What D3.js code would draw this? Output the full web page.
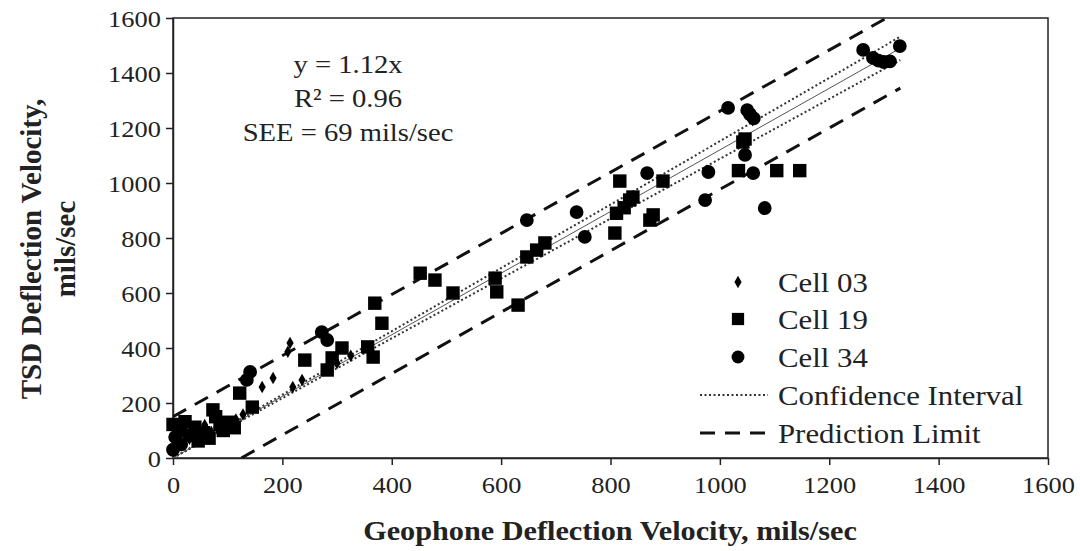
<!DOCTYPE html>
<html><head><meta charset="utf-8">
<script src="https://cdn.jsdelivr.net/npm/d3@7/dist/d3.min.js"></script>
<style>body{margin:0;background:#fff}svg{display:block}text{font-family:"Liberation Serif","Times New Roman",serif;fill:#222}</style>
</head><body><svg id="c" width="1080" height="551"></svg>
<script>
// Data (mils/sec)
const cell03 = [[5,40],[10,60],[15,95],[22,115],[30,70],[38,100],[48,85],[58,120],[70,95],[80,112],[92,130],[104,118],[115,140],[128,158],[163,258],[183,291],[210,386],[214,418],[219,258],[236,284],[300,345],[325,372],[828,918],[842,940],[1040,1150],[1060,1228]];
const cell19 = [[0,122],[10,100],[22,132],[30,82],[40,112],[46,62],[56,92],[66,72],[73,175],[78,150],[86,122],[92,100],[102,130],[112,110],[122,236],[145,185],[241,356],[282,320],[291,364],[309,400],[356,404],[366,367],[369,563],[382,490],[452,672],[479,647],[512,600],[589,654],[592,604],[631,556],[647,731],[665,756],[680,782],[808,818],[811,890],[817,1007],[825,910],[835,938],[841,949],[872,865],[878,884],[896,1007],[1034,1045],[1042,1149],[1046,1160],[1104,1045],[1146,1045]];
const cell34 = [[0,30],[4,76],[15,50],[135,284],[141,313],[272,458],[282,429],[647,865],[738,894],[753,804],[867,1036],[973,938],[979,1040],[1015,1273],[1046,1102],[1050,1265],[1055,1250],[1061,1036],[1062,1235],[1082,909],[1262,1484],[1280,1455],[1290,1445],[1300,1440],[1311,1442],[1329,1498]];
const fitLine = [[0,0],[1330,1490]];
const ciUpper = [[0,0],[1330,1532]];
const ciLower = [[0,0],[1330,1447]];
const plUpper = [[0,150],[1305,1600]];
const plLower = [[125,0],[1330,1345]];
const xTicks = [0,200,400,600,800,1000,1200,1400,1600];
const yTicks = [0,200,400,600,800,1000,1200,1400,1600];
const annotation = ["y = 1.12x","R\u00B2 = 0.96","SEE = 69 mils/sec"];
const legendItems = ["Cell 03","Cell 19","Cell 34","Confidence Interval","Prediction Limit"];

const SX = 1.1; // horizontal text stretch
const svg = d3.select("#c");
const L=173,R=1048,T=18,B=458;
const x = d3.scaleLinear().domain([0,1600]).range([L,R]);
const y = d3.scaleLinear().domain([0,1600]).range([B,T]);

svg.append("rect").attr("x",L).attr("y",T).attr("width",R-L).attr("height",B-T)
  .attr("fill","none").attr("stroke","#222").attr("stroke-width",1.5);

const fmt = d3.format("d");
const xa = svg.append("g").attr("transform",`translate(0,${B})`)
  .call(d3.axisBottom(x).tickValues(xTicks).tickFormat(fmt).tickSize(7).tickSizeOuter(0).tickPadding(11));
const ya = svg.append("g").attr("transform",`translate(${L},0)`)
  .call(d3.axisLeft(y).tickValues(yTicks).tickFormat(fmt).tickSize(7).tickSizeOuter(0).tickPadding(4));
[xa,ya].forEach(a=>{a.select(".domain").attr("stroke","#222").attr("stroke-width",1.5);
  a.selectAll(".tick line").attr("stroke","#222").attr("stroke-width",1.5);
  a.selectAll("text").style("font-family",'"Liberation Serif",serif').style("font-size","24px").attr("fill","#222")
   .attr("transform",`scale(${SX},1)`);});
ya.selectAll("text").attr("dy","0.34em");

const line = d3.line().x(d=>x(d[0])).y(d=>y(d[1]));
svg.append("clipPath").attr("id","pc").append("rect").attr("x",L).attr("y",T).attr("width",R-L).attr("height",B-T);
const g = svg.append("g").attr("clip-path","url(#pc)");
g.append("path").attr("d",line(plUpper)).attr("stroke","#111").attr("stroke-width",3).attr("stroke-dasharray","15,10").attr("fill","none");
g.append("path").attr("d",line(plLower)).attr("stroke","#111").attr("stroke-width",3).attr("stroke-dasharray","15,10").attr("fill","none");
g.append("path").attr("d",line(ciUpper)).attr("stroke","#333").attr("stroke-width",2).attr("stroke-dasharray","2,2.5").attr("fill","none");
g.append("path").attr("d",line(ciLower)).attr("stroke","#333").attr("stroke-width",2).attr("stroke-dasharray","2,2.5").attr("fill","none");
g.append("path").attr("d",line(fitLine)).attr("stroke","#555").attr("stroke-width",1).attr("fill","none");

const sym = {
  c03: d3.symbol().type(d3.symbolDiamond).size(45),
  c19: d3.symbol().type(d3.symbolSquare).size(180),
  c34: d3.symbol().type(d3.symbolCircle).size(150)
};
const pts = svg.append("g");
[[cell03,"c03"],[cell19,"c19"],[cell34,"c34"]].forEach(([arr,k])=>{
  pts.selectAll("path."+k).data(arr).join("path").attr("class",k)
    .attr("transform",d=>`translate(${x(d[0])},${y(d[1])})`).attr("d",sym[k]()).attr("fill","#000");
});

// annotation
svg.append("g").selectAll("text").data(annotation).join("text")
  .attr("transform",(d,i)=>`translate(348,${64+i*34}) scale(${SX},1)`).attr("dy","0.35em").attr("text-anchor","middle")
  .style("font-size","26px").text(d=>d);

// legend
const lg = svg.append("g");
const ly = [282,319,357,395,433];
lg.selectAll("text").data(legendItems).join("text")
  .attr("transform",(d,i)=>`translate(778,${ly[i]}) scale(${SX},1)`).attr("dy","0.35em")
  .style("font-size","28px").text(d=>d);
lg.append("path").attr("transform",`translate(738,${ly[0]})`).attr("d",sym.c03()).attr("fill","#000");
lg.append("path").attr("transform",`translate(738,${ly[1]})`).attr("d",d3.symbol().type(d3.symbolSquare).size(150)()).attr("fill","#000");
lg.append("path").attr("transform",`translate(738,${ly[2]})`).attr("d",d3.symbol().type(d3.symbolCircle).size(130)()).attr("fill","#000");
lg.append("line").attr("x1",700).attr("x2",768).attr("y1",ly[3]).attr("y2",ly[3]).attr("stroke","#333").attr("stroke-width",2).attr("stroke-dasharray","2,2.5");
lg.append("line").attr("x1",700).attr("x2",770).attr("y1",ly[4]).attr("y2",ly[4]).attr("stroke","#111").attr("stroke-width",3).attr("stroke-dasharray","15,10");

// axis titles
svg.append("text").attr("transform",`translate(610,530) scale(${SX},1)`).attr("dy","0.35em").attr("text-anchor","middle")
  .style("font-size","27.5px").style("font-weight","bold").text("Geophone Deflection Velocity, mils/sec");
const yt = svg.append("text").attr("transform",`translate(31,249) rotate(-90)`).attr("text-anchor","middle")
  .style("font-size","29px").style("font-weight","bold");
yt.append("tspan").attr("x",0).attr("dy","0.35em").text("TSD Deflection Velocity,");
yt.append("tspan").attr("x",0).attr("dy","1.17em").text("mils/sec");
</script></body></html>
